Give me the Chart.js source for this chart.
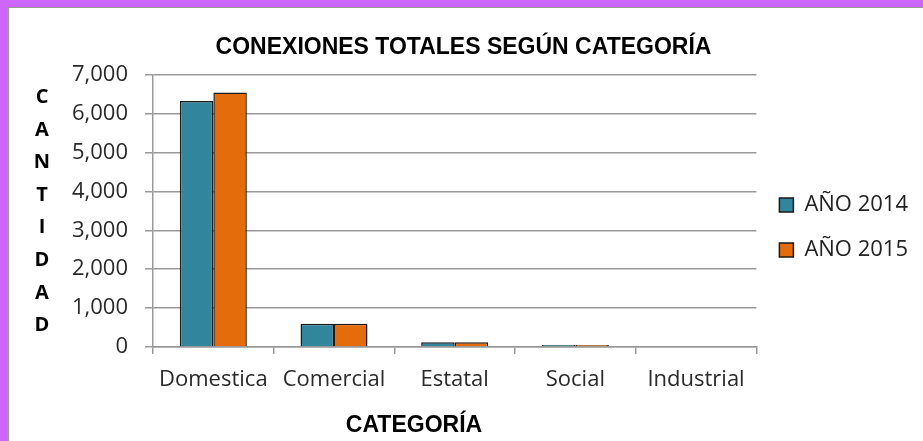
<!DOCTYPE html>
<html>
<head>
<meta charset="utf-8">
<title>Conexiones totales según categoría</title>
<script src="https://cdn.jsdelivr.net/npm/chart.js@4"></script>
<style>
  html, body { margin: 0; padding: 0; background: #fff; }
  .marco { width: 916px; height: 434px; border-left: 7px solid #cc66ff; border-top: 7px solid #cc66ff; }
  .interior { width: 914px; height: 433px; border-left: 2px solid #9a9a9a; border-top: 1px solid #9a9a9a; position: relative; background: #fff; }
</style>
</head>
<body>
<div class="marco">
  <div class="interior">
    <canvas id="conexionesChart"></canvas>
  </div>
</div>
<script>
// datos
const categorias = ['Domestica', 'Comercial', 'Estatal', 'Social', 'Industrial'];
const anio2014 = [6320, 600, 120, 52, 18];
const anio2015 = [6540, 600, 120, 52, 18];
const series = ['AÑO 2014', 'AÑO 2015'];
const yMax = 7000;
const yPaso = 1000;

const titulo = 'CONEXIONES TOTALES SEGÚN CATEGORÍA';
const tituloY = 'CANTIDAD';
const tituloX = 'CATEGORÍA';

const fuente = "'Open Sans', 'DejaVu Sans', sans-serif";
const fuenteTitulo = "'Liberation Sans', Arial, sans-serif";

// titulos de ejes dibujados a mano (letras apiladas en el eje Y)
const titulosEjes = {
    id: 'titulosEjes',
    afterDraw(chart) {
        const ctx = chart.ctx;
        ctx.save();
        ctx.fillStyle = '#000';
        ctx.textAlign = 'center';
        ctx.textBaseline = 'alphabetic';
        ctx.font = "bold 20px " + fuente;
        tituloY.split('').forEach((letra, i) => {
            ctx.fillText(letra, 33, 95 + i * 32.6);
        });
        ctx.font = "bold 23px " + fuenteTitulo;
        ctx.fillText(tituloX, 405, 424);
        ctx.restore();
    }
};

const canvas = document.getElementById('conexionesChart');
new Chart(canvas.getContext('2d'), {
    type: 'bar',
    data: {
        labels: categorias,
        datasets: [{
            label: series[0],
            data: anio2014,
            backgroundColor: '#31859c',
            borderColor: '#1a1a1a',
            borderWidth: 1.5
        }, {
            label: series[1],
            data: anio2015,
            backgroundColor: '#e46c0a',
            borderColor: '#1a1a1a',
            borderWidth: 1.5
        }]
    },
    options: {
        responsive: true,
        maintainAspectRatio: false,
        animation: false,
        layout: { padding: { left: 0, right: 5, top: 6, bottom: 0 } },
        datasets: {
            bar: { categoryPercentage: 0.555, barPercentage: 1 }
        },
        scales: {
            x: {
                afterFit: s => { s.height = 94; },
                grid: {
                    display: true,
                    drawOnChartArea: false,
                    tickLength: 7,
                    color: '#999',
                    lineWidth: 1.5
                },
                border: { color: '#999', width: 1.5 },
                ticks: {
                    color: '#2a2a2a',
                    padding: 13,
                    font: { family: fuente, size: 22 }
                }
            },
            y: {
                min: 0,
                max: yMax,
                afterFit: s => { s.width = 144; },
                grid: { color: '#999', lineWidth: 1.5, tickLength: 8 },
                border: { color: '#999', width: 1.5 },
                ticks: {
                    stepSize: yPaso,
                    color: '#2a2a2a',
                    padding: 17,
                    font: { family: fuente, size: 22 },
                    callback: v => v.toLocaleString('en-US')
                }
            }
        },
        plugins: {
            title: {
                display: true,
                text: titulo,
                color: '#000',
                font: { family: fuenteTitulo, size: 23, weight: 'bold', lineHeight: 1.2 },
                padding: { top: 20, bottom: 13 }
            },
            legend: {
                position: 'right',
                labels: {
                    color: '#222',
                    boxWidth: 14,
                    boxHeight: 14,
                    padding: 23,
                    font: { family: fuente, size: 22 }
                }
            },
            tooltip: { enabled: false }
        }
    },
    plugins: [titulosEjes]
});
</script>
</body>
</html>
